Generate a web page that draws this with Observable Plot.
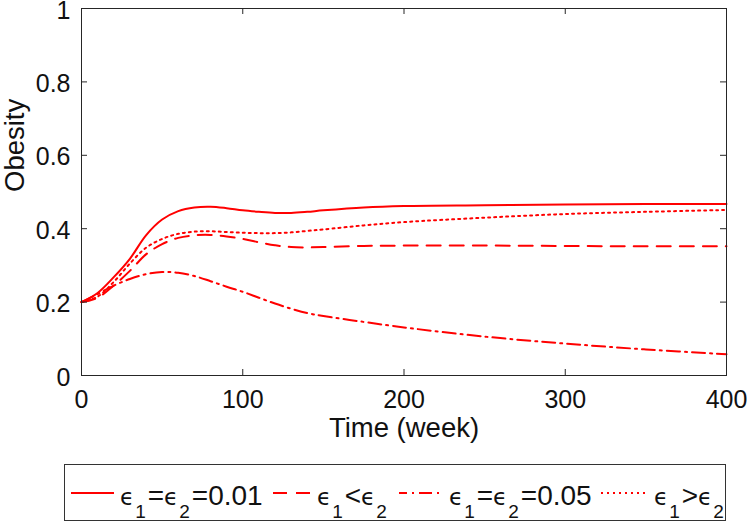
<!DOCTYPE html>
<html>
<head>
<meta charset="utf-8">
<script src="https://cdn.jsdelivr.net/npm/d3@7"></script>
<script src="https://cdn.jsdelivr.net/npm/@observablehq/plot@0.6"></script>
<style>
  html, body { margin: 0; padding: 0; background: #fff; }
  body { width: 747px; height: 521px; position: relative; overflow: hidden; font-family: "Liberation Sans", Arial, sans-serif; }
  #legend { position: absolute; left: 64px; top: 464px; width: 660px; height: 55px; border: 1px solid #333; background: #fff; box-sizing: content-box; }
  .item { position: absolute; top: 0; height: 55px; display: flex; align-items: center; }
  .item svg { display: block; }
  .lab { font-size: 28px; color: #111; line-height: 28px; position: relative; top: 4px; margin-left: 6px; white-space: nowrap; }
  .lab sub { font-size: 19px; vertical-align: -13px; line-height: 0; margin-left: 1px; margin-right: 2px; }
  .eps { font-family: "DejaVu Sans", sans-serif; font-size: 23px; }
</style>
</head>
<body>
<div id="chart"></div>
<div id="legend"></div>
<script>
// Data
const weeks = [0, 10, 20, 30, 40, 50, 60, 70, 80, 90, 100, 110, 120, 130, 140, 150, 175, 200, 250, 300, 350, 400];
const seriesEqual001 = [0.200, 0.225, 0.268, 0.318, 0.382, 0.425, 0.448, 0.458, 0.460, 0.456, 0.450, 0.446, 0.443, 0.443, 0.446, 0.450, 0.458, 0.462, 0.464, 0.466, 0.467, 0.467];
const seriesLess = [0.200, 0.212, 0.245, 0.285, 0.330, 0.358, 0.375, 0.382, 0.383, 0.379, 0.372, 0.363, 0.355, 0.350, 0.349, 0.350, 0.353, 0.354, 0.354, 0.353, 0.352, 0.352];
const seriesEqual005 = [0.200, 0.222, 0.245, 0.263, 0.276, 0.282, 0.280, 0.271, 0.257, 0.242, 0.228, 0.212, 0.196, 0.182, 0.170, 0.162, 0.146, 0.131, 0.106, 0.087, 0.071, 0.058];
const seriesGreater = [0.200, 0.215, 0.255, 0.305, 0.348, 0.372, 0.386, 0.392, 0.393, 0.391, 0.389, 0.388, 0.388, 0.390, 0.394, 0.398, 0.409, 0.418, 0.430, 0.440, 0.446, 0.451];
const xTicks = [0, 100, 200, 300, 400];
const yTicks = [0, 0.2, 0.4, 0.6, 0.8, 1];
const yTickLabels = ["0", "0.2", "0.4", "0.6", "0.8", "1"];
const xLabel = "Time (week)";
const yLabel = "Obesity";

const lineColor = "#ff0000";
const axisColor = "#262626";

const toRows = vals => weeks.map((t, i) => ({t, v: vals[i]}));

const W = 747, H = 460;
const mL = 81, mR = 21, mT = 8, mB = 85;
const innerW = W - mL - mR, innerH = H - mT - mB;
const tickLen = 6;

const chart = Plot.plot({
  width: W, height: H,
  marginLeft: mL, marginRight: mR, marginTop: mT, marginBottom: mB,
  style: { fontFamily: '"Liberation Sans", Arial, sans-serif', background: "#fff", color: "#111" },
  x: { domain: [0, 400] },
  y: { domain: [0, 1] },
  marks: [
    Plot.line(toRows(seriesEqual001), {x: "t", y: "v", stroke: lineColor, strokeWidth: 2, curve: "catmull-rom"}),
    Plot.line(toRows(seriesLess), {x: "t", y: "v", stroke: lineColor, strokeWidth: 2, strokeDasharray: "14,9", curve: "catmull-rom"}),
    Plot.line(toRows(seriesEqual005), {x: "t", y: "v", stroke: lineColor, strokeWidth: 2, strokeDasharray: "13,5,2,5", curve: "catmull-rom"}),
    Plot.line(toRows(seriesGreater), {x: "t", y: "v", stroke: lineColor, strokeWidth: 2, strokeDasharray: "2,4", curve: "catmull-rom"}),
    Plot.frame({stroke: axisColor, strokeWidth: 1}),
    // inward ticks on all four sides
    Plot.tickX(xTicks, {x: d => d, stroke: axisColor, insetTop: innerH - tickLen}),
    Plot.tickX(xTicks, {x: d => d, stroke: axisColor, insetBottom: innerH - tickLen}),
    Plot.tickY(yTicks, {y: d => d, stroke: axisColor, insetRight: innerW - tickLen}),
    Plot.tickY(yTicks, {y: d => d, stroke: axisColor, insetLeft: innerW - tickLen}),
    Plot.axisX({ticks: xTicks, tickSize: 0, tickPadding: 15, fontSize: 25, label: null, tickFormat: d => String(d)}),
    Plot.axisY({ticks: yTicks, tickSize: 0, tickPadding: 11, dy: 2, fontSize: 25, label: null, tickFormat: (d, i) => yTickLabels[i]}),
    Plot.text([xLabel], {frameAnchor: "bottom", lineAnchor: "top", dy: 42, fontSize: 27.5, fill: "#111"}),
    Plot.text([yLabel], {frameAnchor: "left", rotate: -90, lineAnchor: "middle", dx: -66, fontSize: 27.5, fill: "#111"})
  ]
});
document.getElementById("chart").appendChild(chart);

// Legend
const legendItems = [
  {left: 6, len: 43, dash: null, offset: 0, html: '<span class="eps">ϵ</span><sub>1</sub>=<span class="eps">ϵ</span><sub>2</sub>=0.01'},
  {left: 208, len: 38, dash: "14,9", offset: 0, html: '<span class="eps">ϵ</span><sub>1</sub>&lt;<span class="eps">ϵ</span><sub>2</sub>'},
  {left: 334, len: 44, dash: "13,5,2,5", offset: 5, html: '<span class="eps">ϵ</span><sub>1</sub>=<span class="eps">ϵ</span><sub>2</sub>=0.05'},
  {left: 536, len: 47, dash: "2,4", offset: 0, html: '<span class="eps">ϵ</span><sub>1</sub>&gt;<span class="eps">ϵ</span><sub>2</sub>'}
];
const legend = document.getElementById("legend");
for (const it of legendItems) {
  const d = document.createElement("div");
  d.className = "item";
  d.style.left = it.left + "px";
  const ns = "http://www.w3.org/2000/svg";
  const s = document.createElementNS(ns, "svg");
  s.setAttribute("width", it.len);
  s.setAttribute("height", 55);
  const l = document.createElementNS(ns, "line");
  l.setAttribute("x1", 0); l.setAttribute("x2", it.len);
  l.setAttribute("y1", 28); l.setAttribute("y2", 28);
  l.setAttribute("stroke", lineColor);
  l.setAttribute("stroke-width", 2);
  if (it.dash) { l.setAttribute("stroke-dasharray", it.dash); l.setAttribute("stroke-dashoffset", it.offset); }
  s.appendChild(l);
  d.appendChild(s);
  const t = document.createElement("span");
  t.className = "lab";
  t.innerHTML = it.html;
  d.appendChild(t);
  legend.appendChild(d);
}
</script>
</body>
</html>
